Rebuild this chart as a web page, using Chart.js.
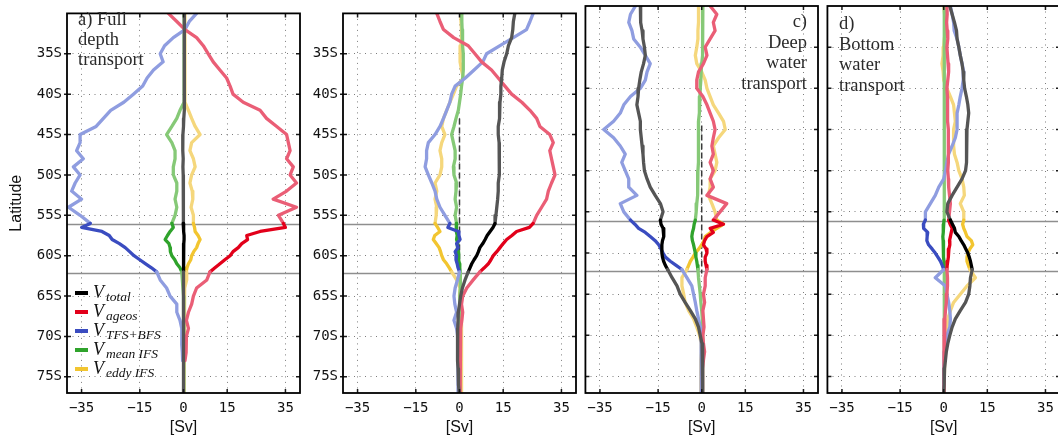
<!DOCTYPE html>
<html>
<head>
<meta charset="utf-8">
<title>Meridional transport by latitude</title>
<script src="https://cdn.jsdelivr.net/npm/chart.js@4.4.1/dist/chart.umd.min.js"></script>
<style>
  body { margin: 0; background: #fff; width: 1058px; height: 440px; position: relative; overflow: hidden; }
  canvas { position: absolute; top: 0; }
</style>
</head>
<body>
<canvas id="panelA" width="306" height="440" style="left:0px"></canvas>
<canvas id="panelB" width="280" height="440" style="left:300px"></canvas>
<canvas id="panelC" width="242" height="440" style="left:580px"></canvas>
<canvas id="panelD" width="240" height="440" style="left:822px"></canvas>
<script>
// latitude (degrees south) of every sample; half-degree steps inside the 56S-62S band
const lats = [30, 31, 32, 33, 34, 35, 36, 37, 38, 39, 40, 41, 42, 43, 44, 45, 46, 47, 48, 49, 50, 51, 52, 53, 54, 55,
  56, 56.5, 57, 57.5, 58, 58.5, 59, 59.5, 60, 60.5, 61, 61.5, 62,
  63, 64, 65, 66, 67, 68, 69, 70, 71, 72, 73, 74, 75, 76, 77];

const latTicks = [35, 40, 45, 50, 55, 60, 65, 70, 75];
const svTicks = [-35, -15, 0, 15, 35];
const band = [56, 62];            // latitudes drawn in the strong colours
const bandLines = [56.1, 62.15];  // grey guide lines

const seriesNames = ['total', 'ageos', 'TFS+BFS', 'mean IFS', 'eddy IFS'];

// a) full depth  [Sv]
const fullTotal = [0.3, 0.3, 0.2, 0.2, 0.3, 0.4, 0.3, 0.3, 0.2, 0.2, 0.3, 0.4, 0.3, 0.1, 0.0, -0.2, -0.3, -0.2, -0.1, -0.2, -0.1, 0.0, 0.1, 0.0, -0.1, -0.1,
  -0.1, 0.0, 0.1, 0.2, 0.2, 0.1, 0.0, -0.1, 0.0, 0.1, 0.1, 0.0, 0.0,
  0.0, 0.1, 0.1, 0.0, -0.1, -0.1, 0.0, 0.0, 0.0, 0.0, 0.0, 0.0, 0.0, 0.0, 0.0];
const fullAgeos = [-5.2, -2.3, 0.5, 4.5, 6.8, 8.5, 10.2, 12.5, 14.8, 16.0, 17.0, 20.5, 26.3, 28.5, 32.0, 35.4, 36.0, 36.6, 35.4, 37.7, 36.6, 38.8, 35.4, 30.8, 38.8, 32.6,
  34.3, 35.0, 26.3, 21.7, 22.0, 20.0, 18.8, 17.0, 16.0, 14.2, 12.5, 10.8, 9.1,
  8.0, 4.5, 3.4, 2.8, 1.7, 1.0, 1.7, 1.0, 0.9, 0.9, 0.5, null, null, null, null];
const fullTfsBfs = [4.5, 2.0, 0.5, -3.5, -6.5, -8.0, -7.0, -10.3, -12.5, -14.0, -17.2, -20.5, -25.0, -27.5, -30.0, -35.5, -35.5, -36.7, -34.4, -37.8, -35.5, -37.2, -38.4, -35.0, -39.5, -35.5,
  -32.0, -35.0, -28.0, -25.5, -24.5, -22.0, -20.0, -18.5, -17.0, -15.0, -13.0, -11.0, -9.2,
  -8.0, -5.8, -4.6, -2.3, -2.3, -1.2, -0.6, -0.6, -0.6, -0.4, -0.3, null, null, null, null];
const fullMeanIfs = [0.2, 0.2, 0.2, 0.2, 0.2, 0.2, 0.2, 0.2, 0.2, 0.2, 0.2, 0.2, -1.2, -2.3, -4.0, -5.8, -4.0, -2.9, -2.9, -3.5, -3.5, -2.3, -2.3, -2.9, -2.3, -2.9,
  -4.0, -3.5, -4.6, -5.5, -6.3, -5.0, -4.6, -4.5, -4.0, -3.0, -2.3, -1.2, -0.6,
  -0.4, -0.2, 0.0, 0.1, 0.1, 0.1, 0.1, 0.1, 0.1, 0.1, 0.1, 0.1, 0.1, 0.1, 0.1];
const fullEddyIfs = [0.5, 0.5, 0.5, 0.5, 0.5, 0.5, 0.5, 0.5, 0.5, 0.5, 0.5, 0.5, 1.7, 2.8, 4.0, 5.7, 2.8, 2.2, 3.4, 4.0, 2.8, 2.2, 3.0, 3.2, 2.6, 3.4,
  3.4, 3.8, 4.0, 5.0, 5.7, 5.0, 4.5, 3.5, 2.8, 2.5, 1.7, 1.2, 0.9,
  1.1, 0.4, 0.2, 0.2, 0.2, 0.2, 0.2, 0.2, 0.2, 0.2, 0.2, 0.2, 0.2, 0.2, 0.2];

// b) intermediate / thermocline
const thermoTotal = [19.0, 18.5, 18.3, 17.9, 16.8, 16.2, 15.3, 14.7, 14.5, 14.2, 14.2, 13.9, 13.9, 13.6, 13.3, 13.3, 13.6, 13.7, 13.7, 13.7, 13.6, 13.3, 13.3, 13.1, 12.8, 12.5,
  12.2, 11.5, 10.5, 9.5, 8.8, 8.0, 7.0, 6.5, 5.9, 5.0, 4.2, 3.6, 3.0,
  1.9, 1.0, 0.4, 0.0, -0.4, -0.5, -0.6, -0.7, -0.7, -0.7, -0.6, -0.5, -0.4, -0.3, -0.1];
const thermoAgeos = [-7.8, -6.7, -5.5, -2.0, 3.0, 5.3, 7.6, 11.0, 13.3, 15.6, 17.9, 21.4, 24.2, 26.5, 27.6, 31.0, 32.2, 31.0, 31.6, 32.2, 32.8, 31.6, 30.5, 29.9, 28.2, 26.5,
  25.3, 24.0, 19.6, 18.0, 16.2, 15.0, 13.9, 12.8, 11.6, 10.8, 9.9, 8.5, 7.0,
  4.7, 2.5, 1.1, 0.7, 1.1, 0.8, 0.4, 0.3, 0.2, 0.2, 0.2, 0.2, 0.2, 0.2, 0.2];
const thermoTfsBfs = [25.3, 24.2, 23.0, 18.5, 13.9, 9.3, 8.0, 5.0, 2.0, -1.5, -2.7, -3.3, -4.4, -5.5, -6.7, -8.4, -10.7, -11.3, -11.3, -11.8, -10.7, -9.5, -8.4, -7.8, -6.7, -5.0,
  -3.3, -4.0, -0.4, -0.2, 0.2, -1.0, -0.5, -1.5, -1.0, -1.2, -0.8, -0.5, 0.0,
  -0.7, -1.5, -1.9, -1.6, -1.0, -1.9, -1.0, -0.6, -0.5, -0.5, -0.5, -0.5, -0.5, -0.5, -0.5];
const thermoMeanIfs = [0.7, 0.8, 0.9, 1.0, 1.1, 1.3, 1.3, 1.3, 1.1, 0.7, 0.4, 0.0, -0.4, -1.2, -1.9, -2.7, -2.1, -1.5, -1.5, -2.1, -1.9, -1.0, -1.2, -1.5, -1.0, -1.5,
  -1.0, -1.2, -1.0, -0.8, -1.0, -0.6, -0.7, -0.5, -0.4, -0.2, 0.0, 0.1, 0.2,
  0.4, 0.2, 0.1, 0.1, 0.2, 0.2, 0.1, 0.1, 0.1, 0.1, 0.1, 0.1, 0.1, 0.1, 0.1];
const thermoEddyIfs = [0.4, 0.5, 0.7, 0.7, 0.5, 0.2, 0.2, 0.7, 1.3, -1.0, -2.1, -3.3, -4.4, -5.5, -6.1, -5.0, -6.1, -6.7, -6.1, -6.1, -6.7, -8.4, -7.8, -8.4, -7.8, -8.0,
  -8.4, -7.5, -6.7, -8.5, -9.0, -8.0, -7.0, -6.5, -6.1, -5.5, -4.4, -3.5, -2.7,
  -1.0, 0.2, 0.0, 0.5, 0.6, 0.7, 0.7, 0.7, 0.7, 0.7, 0.7, 0.7, 0.7, 0.7, 0.7];

// c) deep water
const deepTotal = [-21.1, -21.1, -20.9, -20.5, -20.2, -19.7, -19.4, -20.0, -20.8, -21.3, -21.7, -21.9, -22.3, -21.7, -21.1, -21.1, -20.8, -20.5, -20.2, -20.0, -19.7, -18.8, -17.7, -16.0, -14.2, -13.3,
  -14.2, -14.0, -13.3, -13.0, -13.1, -13.5, -13.7, -13.7, -13.7, -13.5, -13.1, -12.5, -11.7,
  -10.2, -8.5, -7.4, -5.7, -3.9, -2.2, -1.1, -0.5, 0.1, 0.3, 0.4, 0.4, 0.4, 0.3, 0.2];
const deepAgeos = [2.9, 5.2, 4.0, 4.6, 2.9, 1.2, 1.8, 0.6, -1.1, -1.7, -1.7, 0.4, 1.8, 2.9, 4.0, 4.6, 4.0, 3.5, 4.0, 2.9, 4.0, 2.9, 4.0, 1.8, 8.6, 6.3,
  4.0, 7.5, 2.9, 4.0, 1.8, 1.0, 0.6, 1.5, 1.8, 1.2, 1.2, 1.5, 1.8,
  1.2, 1.2, 0.6, 1.0, 0.4, 0.6, 0.8, 0.4, 0.6, 1.0, 0.6, 0.3, 0.3, 0.3, 0.3];
const deepTfsBfs = [-22.8, -24.5, -25.1, -24.0, -23.4, -21.1, -19.4, -17.7, -18.8, -19.4, -21.1, -24.5, -26.8, -28.0, -30.3, -33.7, -30.3, -28.0, -26.3, -27.5, -26.3, -25.1, -25.1, -22.3, -28.0, -26.8,
  -24.5, -23.0, -21.7, -19.4, -17.7, -16.0, -14.8, -14.0, -13.3, -12.5, -10.8, -8.8, -6.8,
  -5.1, -3.4, -2.8, -2.2, -1.7, -1.1, -0.5, -0.3, -0.2, -0.2, -0.2, -0.2, -0.2, -0.2, -0.2];
const deepMeanIfs = [0.4, 0.4, 0.4, 0.3, 0.3, 0.3, 0.1, 0.0, -0.2, -0.3, -0.5, -0.6, -0.7, -0.9, -1.1, -1.1, -1.1, -1.1, -1.1, -1.2, -1.3, -1.3, -1.4, -1.5, -1.7, -1.9,
  -2.2, -2.6, -2.8, -3.2, -3.4, -3.2, -2.8, -2.5, -2.2, -2.0, -1.7, -1.5, -1.3,
  -1.1, -0.8, -0.5, -0.3, 0.0, 0.2, 0.3, 0.3, 0.3, 0.3, 0.3, 0.3, 0.3, 0.3, 0.3];
const deepEddyIfs = [-1.1, -1.1, -1.1, -1.3, -1.3, -1.7, -2.2, -1.7, 0.0, 1.2, 1.8, 2.9, 4.0, 5.8, 7.5, 8.1, 5.8, 4.0, 4.6, 5.2, 4.6, 2.9, 2.9, 2.3, 3.5, 4.6,
  5.2, 7.5, 5.2, 3.0, 1.2, 0.8, 0.0, -1.0, -2.2, -3.0, -3.9, -4.5, -5.1,
  -6.8, -6.8, -6.2, -5.7, -4.5, -2.8, -1.7, -0.7, -0.2, -0.1, -0.3, -0.3, -0.3, -0.3, -0.3];

// d) bottom water
const bottomTotal = [2.1, 2.9, 3.7, 4.4, 4.6, 5.2, 5.7, 6.3, 6.7, 6.9, 7.2, 7.8, 8.3, 8.6, 8.3, 8.0, 8.0, 7.8, 7.8, 7.8, 7.5, 6.3, 4.6, 2.9, 1.4, 1.1,
  2.3, 3.0, 3.7, 4.0, 5.2, 6.0, 6.9, 7.6, 8.3, 8.8, 9.2, 9.5, 9.8,
  9.2, 9.0, 8.6, 7.5, 5.7, 4.0, 2.9, 2.1, 1.4, 0.9, 0.6, 0.3, 0.2, 0.1, 0.0];
const bottomAgeos = [1.1, 1.2, 1.0, 1.2, 1.4, 1.1, 1.3, 1.5, 1.7, 1.4, 1.1, 1.3, 1.4, 1.2, 1.4, 1.6, 1.7, 1.5, 1.7, 1.5, 1.4, 1.6, 1.7, 2.0, 2.3, 2.0,
  1.7, 2.2, 2.9, 2.6, 2.3, 2.0, 2.1, 1.8, 1.7, 1.5, 1.4, 1.2, 1.1,
  1.3, 1.3, 1.1, 0.9, 0.6, 0.4, 0.2, 0.1, 0.1, 0.1, 0.1, 0.1, 0.1, 0.1, 0.1];
const bottomTfsBfs = [2.3, 2.9, 3.4, 3.6, 4.6, 5.2, 5.7, 6.3, 6.9, 6.7, 6.3, 5.7, 5.2, 4.6, 4.6, 4.6, 4.0, 2.9, 1.7, 1.1, 0.6, 0.0, -1.7, -2.9, -4.6, -6.3,
  -6.3, -7.0, -6.9, -5.5, -5.7, -5.8, -5.2, -4.0, -2.9, -2.0, -1.1, -0.5, 0.0,
  -2.9, 0.6, 1.1, 1.7, 2.1, 2.3, 2.1, 1.1, 0.6, 0.2, 0.1, 0.0, 0.0, 0.0, 0.0];
const bottomMeanIfs = [0.2, 0.2, 0.2, 0.2, 0.2, 0.2, 0.2, 0.2, 0.2, 0.2, 0.2, 0.2, 0.2, 0.2, 0.2, 0.2, 0.2, 0.2, 0.2, 0.2, 0.2, 0.2, 0.2, 0.2, 0.2, 0.2,
  0.1, 0.0, -0.1, -0.2, -0.3, -0.2, -0.2, -0.1, 0.0, 0.0, 0.1, 0.1, 0.2,
  0.2, 0.2, 0.2, 0.2, 0.2, 0.2, 0.2, 0.2, 0.2, 0.2, 0.2, 0.2, 0.2, 0.2, 0.2];
const bottomEddyIfs = [0.0, 0.3, 0.9, 0.6, 0.2, 0.0, -0.2, -0.6, -0.2, 0.0, 1.1, 2.3, 3.4, 3.7, 4.0, 3.4, 3.4, 3.4, 3.7, 4.6, 5.2, 6.3, 6.9, 7.1, 5.7, 6.9,
  6.9, 6.5, 6.9, 7.5, 8.0, 9.5, 10.0, 9.0, 8.3, 8.0, 8.0, 8.5, 9.0,
  10.9, 8.0, 5.7, 3.4, 2.3, 1.4, 1.1, 0.8, 0.6, 0.4, 0.2, 0.1, 0.1, 0.1, 0.1];

// extent (deg S) of the dashed zero line in b) and c)
const zeroLineB = [43, 62];
const zeroLineC = [44.5, 62.5];

// colours: strong inside the band, pale outside
const darkColors = ['#000000', '#e2001a', '#3a4cc0', '#2fa32c', '#f2c530'];
const lightColors = ['#555555', '#ea5e76', '#8f9de0', '#86c977', '#f5d77c'];

Chart.defaults.font.family = '"DejaVu Sans Mono", monospace';
Chart.defaults.color = '#111';

function inBand(c) {
  const mid = -(c.p0.parsed.y + c.p1.parsed.y) / 2;
  return mid > band[0] && mid < band[1];
}

function lineSet(values, k) {
  const pts = [];
  values.forEach((v, i) => { if (v !== null) pts.push({ x: v, y: -lats[i] }); });
  return {
    label: 'V ' + seriesNames[k],
    data: pts,
    showLine: true,
    pointRadius: 0,
    borderWidth: 3.3,
    borderColor: lightColors[k],
    borderJoinStyle: 'round',
    borderCapStyle: 'round',
    segment: { borderColor: c => inBand(c) ? darkColors[k] : undefined }
  };
}

function zeroSet(range) {
  return {
    label: 'zero',
    data: range.map(l => ({ x: 0, y: -l })),
    showLine: true,
    pointRadius: 0,
    borderWidth: 1.5,
    borderColor: '#3a3a3a',
    borderDash: [6, 3]
  };
}

function drawLegend(ctx) {
  const rows = [293, 312, 331, 350, 369];
  rows.forEach((y, k) => {
    ctx.strokeStyle = darkColors[k];
    ctx.lineWidth = 4;
    ctx.beginPath();
    ctx.moveTo(75, y);
    ctx.lineTo(88, y);
    ctx.stroke();
    ctx.fillStyle = '#111';
    ctx.textAlign = 'left';
    ctx.textBaseline = 'alphabetic';
    ctx.font = 'italic 18px "Liberation Serif"';
    ctx.fillText('V', 93, y + 5);
    ctx.font = 'italic 13.5px "Liberation Serif"';
    ctx.fillText(seriesNames[k], 106, y + 8);
  });
}

const decor = {
  id: 'decor',
  beforeDatasetsDraw(chart) {
    const { ctx, chartArea: a, scales: { y } } = chart;
    ctx.save();
    ctx.strokeStyle = '#8e8e8e';
    ctx.lineWidth = 1.3;
    bandLines.forEach(l => {
      const py = Math.round(y.getPixelForValue(-l)) + 0.5;
      ctx.beginPath();
      ctx.moveTo(a.left, py);
      ctx.lineTo(a.right, py);
      ctx.stroke();
    });
    ctx.restore();
  },
  afterDatasetsDraw(chart, args, o) {
    const { ctx, chartArea: a, scales: { x, y } } = chart;
    ctx.save();
    // tick marks pointing inwards
    ctx.strokeStyle = '#1a1a1a';
    ctx.lineWidth = 1.5;
    ctx.beginPath();
    latTicks.forEach(l => {
      const py = y.getPixelForValue(-l);
      ctx.moveTo(a.left - o.tickOut, py); ctx.lineTo(a.left + 4, py);
      ctx.moveTo(a.right - 4, py); ctx.lineTo(a.right, py);
    });
    svTicks.forEach(v => {
      const px = x.getPixelForValue(v);
      ctx.moveTo(px, a.bottom); ctx.lineTo(px, a.bottom - 4);
      ctx.moveTo(px, a.top); ctx.lineTo(px, a.top + 4);
    });
    ctx.stroke();
    // frame
    ctx.strokeStyle = '#000';
    ctx.lineWidth = 1.8;
    ctx.strokeRect(a.left, a.top, a.right - a.left, a.bottom - a.top);
    // panel caption
    ctx.fillStyle = '#2b2b2b';
    ctx.font = '18.5px "Liberation Serif"';
    ctx.textAlign = o.align;
    ctx.textBaseline = 'alphabetic';
    o.text.forEach((t, i) => ctx.fillText(t, o.textX, o.baselines[i]));
    if (o.legend) drawLegend(ctx);
    ctx.restore();
  }
};

function makePanel(id, values, zero, p) {
  const datasets = values.map((v, k) => lineSet(v, k));
  if (zero) datasets.push(zeroSet(zero));
  return new Chart(document.getElementById(id), {
    type: 'scatter',
    data: { datasets },
    plugins: [decor],
    options: {
      responsive: false,
      animation: false,
      events: [],
      layout: { padding: { left: 0, right: p.padRight, top: 6, bottom: 0 } },
      scales: {
        x: {
          type: 'linear', min: -40, max: 40,
          afterBuildTicks: s => { s.ticks = svTicks.map(v => ({ value: v })); },
          afterFit: s => { s.height = 47; },
          ticks: {
            font: { size: 14 }, color: '#111', padding: 7, maxRotation: 0, autoSkip: false,
            callback: v => v < 0 ? '\u2212' + (-v) : String(v)
          },
          grid: { drawTicks: false, color: '#7d7d7d', lineWidth: 1 },
          border: { display: false, dash: [1, 4.5] },
          title: {
            display: true, text: '[Sv]', color: '#111',
            font: { family: '"Liberation Sans", Arial, sans-serif', size: 16 },
            padding: { top: 0, bottom: 3 }
          }
        },
        y: {
          type: 'linear', min: -77, max: -30,
          afterBuildTicks: s => { s.ticks = latTicks.map(l => ({ value: -l })); },
          afterFit: s => { s.width = p.yWidth; },
          ticks: {
            display: p.yLabels, font: { size: 14 }, color: '#111', padding: 5, autoSkip: false,
            callback: v => (-v) + 'S'
          },
          grid: { drawTicks: false, color: '#7d7d7d', lineWidth: 1 },
          border: { display: false, dash: [1, 4.5] },
          title: {
            display: p.yTitle, text: 'Latitude', color: '#111',
            font: { family: '"Liberation Sans", Arial, sans-serif', size: 16 },
            padding: { top: 7, bottom: 0 }
          }
        }
      },
      plugins: {
        legend: { display: false },
        tooltip: { enabled: false },
        decor: p.decor
      }
    }
  });
}

makePanel('panelA', [fullTotal, fullAgeos, fullTfsBfs, fullMeanIfs, fullEddyIfs], null, {
  padRight: 6, yWidth: 67, yLabels: true, yTitle: true,
  decor: { text: ['a) Full', 'depth', 'transport'], textX: 78, align: 'left', baselines: [25, 45, 65], legend: true, tickOut: 3 }
});
makePanel('panelB', [thermoTotal, thermoAgeos, thermoTfsBfs, thermoMeanIfs, thermoEddyIfs], zeroLineB, {
  padRight: 4, yWidth: 43, yLabels: true, yTitle: false,
  decor: { text: ['b)', 'Intermediate/', 'thermocline', 'transport'], textX: 351, align: 'left', baselines: [25, 45.5, 66, 86.5], legend: false, tickOut: 3 }
});
makePanel('panelC', [deepTotal, deepAgeos, deepTfsBfs, deepMeanIfs, deepEddyIfs], zeroLineC, {
  padRight: 4, yWidth: 5, yLabels: false, yTitle: false,
  decor: { text: ['c)', 'Deep', 'water', 'transport'], textX: 227, align: 'right', baselines: [27, 47.5, 68, 88.5], legend: false, tickOut: 0 }
});
makePanel('panelD', [bottomTotal, bottomAgeos, bottomTfsBfs, bottomMeanIfs, bottomEddyIfs], null, {
  padRight: 2, yWidth: 5, yLabels: false, yTitle: false,
  decor: { text: ['d)', 'Bottom', 'water', 'transport'], textX: 17, align: 'left', baselines: [29, 49.5, 70, 90.5], legend: false, tickOut: 0 }
});
</script>
</body>
</html>
